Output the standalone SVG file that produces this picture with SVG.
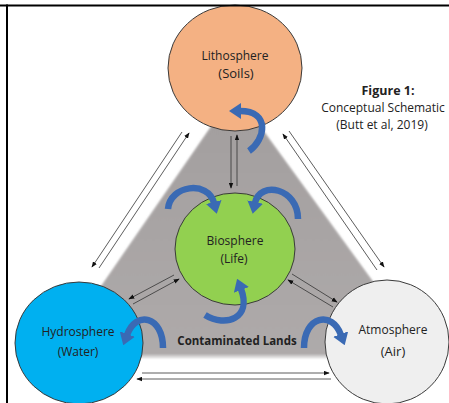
<svg xmlns="http://www.w3.org/2000/svg" width="449" height="403" viewBox="0 0 449 403">
<defs>
<style>
.lbl{font-family:"Open Sans","Liberation Sans",sans-serif;font-size:12px;fill:#222;text-anchor:middle}
.big{font-size:13px}
.bold{font-weight:bold}
.sphere{stroke:#3a3a3a;stroke-width:1}
.thin{fill:none;stroke:#333;stroke-width:0.8;marker-end:url(#ah)}
.blue{fill:none;stroke:#3A6AB4;stroke-width:6.5;marker-end:url(#bh)}
</style>
<marker id="ah" viewBox="0 0 8 6" refX="7" refY="3" markerWidth="6" markerHeight="5" markerUnits="userSpaceOnUse" orient="auto">
<path d="M0,0 L8,3 L0,6 z" fill="#111"/>
</marker>
<marker id="bh" viewBox="0 0 12 16" refX="1" refY="8" markerWidth="12" markerHeight="16" markerUnits="userSpaceOnUse" orient="auto">
<path d="M0,0 L12,8 L0,16 z" fill="#3A6AB4"/>
</marker>
<linearGradient id="gg" x1="0" y1="0" x2="0" y2="1">
<stop offset="0" stop-color="#A29E9E"/>
<stop offset="1" stop-color="#AEAAAA"/>
</linearGradient>
<filter id="soft" x="-5%" y="-5%" width="110%" height="110%">
<feGaussianBlur stdDeviation="1.2"/>
</filter>
</defs>
<rect width="449" height="403" fill="#fff"/>
<g id="contaminated-lands">
<polygon points="235,92 428,358 52,358" fill="#D6D4D4" filter="url(#soft)"/>
<polygon points="235,92 426,355 54,355" fill="url(#gg)" filter="url(#soft)"/>
<text class="lbl bold" x="237" y="345" style="font-size:11.5px">Contaminated Lands</text>
</g>
<g id="lithosphere">
<ellipse class="sphere" cx="235" cy="68" rx="67" ry="63" fill="#F4B183"/>
<text class="lbl" x="235" y="60">Lithosphere</text>
<text class="lbl big" x="236" y="78">(Soils)</text>
</g>
<g id="biosphere">
<ellipse class="sphere" cx="235" cy="249" rx="60" ry="56" fill="#92D050"/>
<text class="lbl" x="235" y="245">Biosphere</text>
<text class="lbl" x="234" y="263">(Life)</text>
</g>
<g id="hydrosphere">
<ellipse class="sphere" cx="79" cy="343" rx="64" ry="61" fill="#00B0F0"/>
<text class="lbl" x="78" y="336">Hydrosphere</text>
<text class="lbl" x="78" y="356">(Water)</text>
</g>
<g id="atmosphere">
<ellipse class="sphere" cx="387" cy="342" rx="62" ry="62" fill="#EFEFEF"/>
<text class="lbl" x="393" y="334">Atmosphere</text>
<text class="lbl big" x="393" y="356">(Air)</text>
</g>
<g id="connectors">
<line class="thin" x1="99" y1="268" x2="189" y2="133"/>
<line class="thin" x1="182" y1="132" x2="92" y2="267"/>
<line class="thin" x1="377" y1="270" x2="283" y2="134"/>
<line class="thin" x1="289" y1="131" x2="384" y2="267"/>
<line class="thin" x1="231" y1="136" x2="231" y2="188"/>
<line class="thin" x1="237" y1="186" x2="237" y2="135"/>
<line class="thin" x1="174" y1="275" x2="129" y2="299"/>
<line class="thin" x1="133" y1="304" x2="179" y2="279"/>
<line class="thin" x1="292" y1="274" x2="337" y2="302"/>
<line class="thin" x1="333" y1="307" x2="288" y2="280"/>
<line class="thin" x1="142" y1="373" x2="329" y2="373"/>
<line class="thin" x1="331" y1="379" x2="137" y2="379"/>
<path class="blue" d="M249 151 C265 140 271 111 240 111"/>
<path class="blue" d="M168 209 C170 185 208 180 214 203"/>
<path class="blue" d="M298 219 C298 188 260 180 255 203"/>
<path class="blue" d="M205 315 C226 328 252 318 241 289"/>
<path class="blue" d="M163 348 C163 316 136 310 127 335"/>
<path class="blue" d="M304 348 C304 316 332 310 341 335"/>
</g>
<g id="caption">
<text class="lbl bold" x="388" y="95" style="font-size:12.5px">Figure 1:</text>
<text class="lbl" x="383" y="112">Conceptual Schematic</text>
<text class="lbl" x="382" y="129">(Butt et al, 2019)</text>
</g>
<g id="frame">
<rect x="0" y="4.5" width="449" height="2" fill="#000"/>
<rect x="6" y="4.5" width="2" height="399" fill="#000"/>
</g>
</svg>
